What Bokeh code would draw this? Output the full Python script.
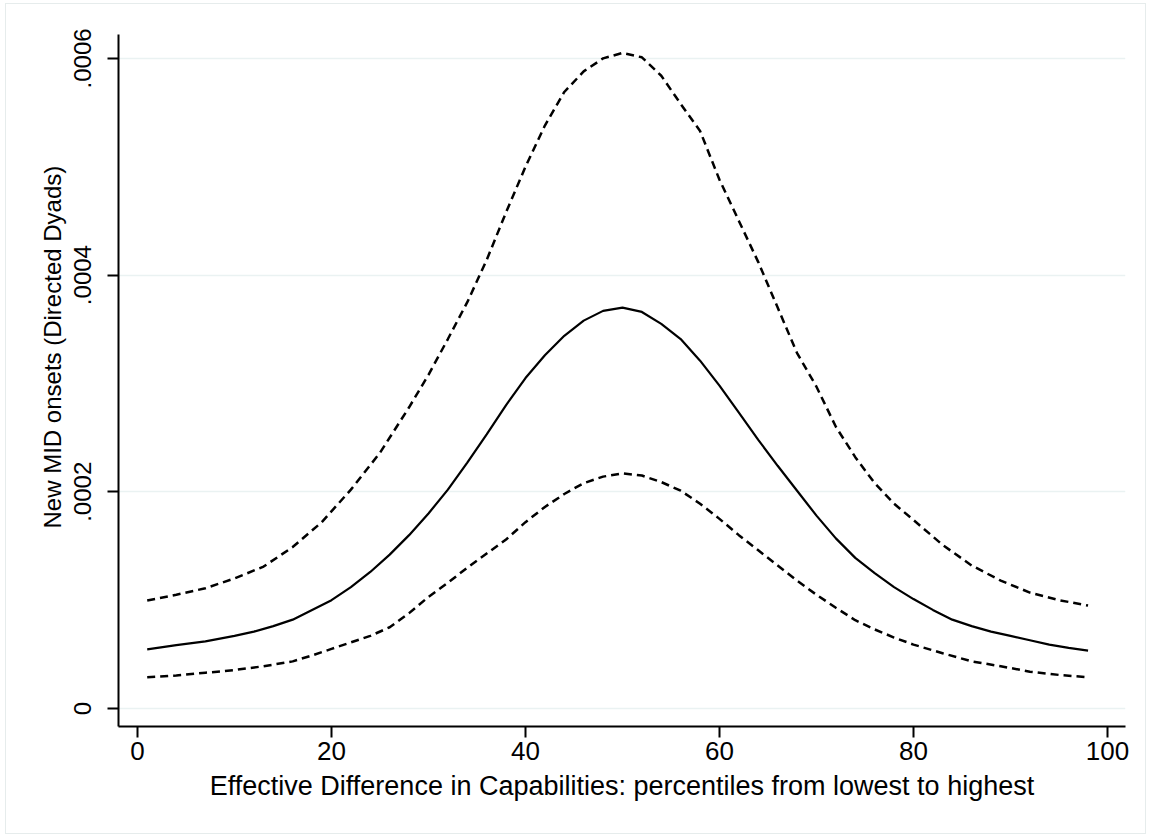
from bokeh.plotting import figure
from bokeh.models import Range1d, FixedTicker, CustomJSTickFormatter, Title
from bokeh.embed import file_html
from bokeh.resources import INLINE

# Percentile of effective capability difference
x_mean = [1, 4, 7, 10, 12, 14, 16, 18, 20, 22, 24, 26, 28, 30, 32, 34, 36, 38,
          40, 42, 44, 46, 48, 50, 52, 54, 56, 58, 60, 62, 64, 66, 68, 70, 72,
          74, 76, 78, 80, 82, 84, 86, 88, 90, 92, 94, 96, 98]
y_mean = [5.45e-5, 5.85e-5, 6.2e-5, 6.7e-5, 7.1e-5, 7.6e-5, 8.2e-5, 9.1e-5,
          1.0e-4, 1.12e-4, 1.26e-4, 1.42e-4, 1.60e-4, 1.80e-4, 2.02e-4, 2.27e-4,
          2.53e-4, 2.80e-4, 3.05e-4, 3.26e-4, 3.44e-4, 3.58e-4, 3.67e-4, 3.70e-4,
          3.66e-4, 3.55e-4, 3.41e-4, 3.21e-4, 2.98e-4, 2.73e-4, 2.48e-4, 2.24e-4,
          2.01e-4, 1.78e-4, 1.57e-4, 1.39e-4, 1.25e-4, 1.12e-4, 1.01e-4, 9.1e-5,
          8.2e-5, 7.6e-5, 7.1e-5, 6.7e-5, 6.3e-5, 5.9e-5, 5.6e-5, 5.35e-5]

x_upper = [1, 4, 7, 10, 13, 16, 19, 22, 25, 28, 30, 32, 34, 36, 38, 40, 42, 44,
           46, 48, 50, 52, 54, 56, 58, 60, 62, 64, 66, 68, 70, 72, 74, 76, 78,
           80, 83, 86, 89, 92, 95, 98]
y_upper = [9.97e-5, 1.05e-4, 1.11e-4, 1.20e-4, 1.31e-4, 1.49e-4, 1.72e-4, 2.02e-4,
           2.36e-4, 2.78e-4, 3.08e-4, 3.41e-4, 3.75e-4, 4.14e-4, 4.58e-4, 5.0e-4,
           5.38e-4, 5.69e-4, 5.88e-4, 6.0e-4, 6.05e-4, 6.01e-4, 5.84e-4, 5.58e-4,
           5.33e-4, 4.88e-4, 4.50e-4, 4.12e-4, 3.70e-4, 3.28e-4, 2.97e-4, 2.60e-4,
           2.32e-4, 2.08e-4, 1.89e-4, 1.74e-4, 1.51e-4, 1.32e-4, 1.18e-4, 1.07e-4,
           1.0e-4, 9.5e-5]

x_lower = [1, 4, 7, 10, 13, 16, 18, 20, 22, 24, 26, 28, 30, 32, 34, 36, 38, 40,
           42, 44, 46, 48, 50, 52, 54, 56, 58, 60, 62, 64, 66, 68, 70, 72, 74,
           76, 78, 80, 83, 86, 89, 92, 95, 98]
y_lower = [2.89e-5, 3.05e-5, 3.3e-5, 3.55e-5, 3.9e-5, 4.35e-5, 4.9e-5, 5.5e-5,
           6.1e-5, 6.7e-5, 7.5e-5, 8.8e-5, 1.03e-4, 1.16e-4, 1.30e-4, 1.43e-4,
           1.56e-4, 1.72e-4, 1.86e-4, 1.98e-4, 2.08e-4, 2.14e-4, 2.17e-4, 2.15e-4,
           2.09e-4, 2.01e-4, 1.89e-4, 1.75e-4, 1.60e-4, 1.46e-4, 1.32e-4, 1.18e-4,
           1.05e-4, 9.3e-5, 8.15e-5, 7.3e-5, 6.55e-5, 5.9e-5, 5.1e-5, 4.35e-5,
           3.9e-5, 3.4e-5, 3.1e-5, 2.89e-5]

x_ticks = [0, 20, 40, 60, 80, 100]
y_ticks = [0, 0.0002, 0.0004, 0.0006]

FONT = "Liberation Sans"

p = figure(width=1141, height=831, output_backend="svg", toolbar_location=None,
           x_range=Range1d(-1.959, 101.86), y_range=Range1d(-1.661e-5, 6.2206e-4),
           min_border_left=112, min_border_right=22, min_border_top=30,
           min_border_bottom=109,
           styles={"margin": "3px 0 0 5px", "border": "1px solid #e6ecec"})
p.outline_line_color = None
p.background_fill_color = "white"
p.border_fill_color = "white"

p.line(x_upper, y_upper, line_color="black", line_width=2.5, line_dash="8 5")
p.line(x_lower, y_lower, line_color="black", line_width=2.5, line_dash="8 5")
p.line(x_mean, y_mean, line_color="black", line_width=2.2)

p.xgrid.grid_line_color = None
p.ygrid.grid_line_color = "#eaf2f2"
p.ygrid.grid_line_width = 1.5

p.xaxis.ticker = FixedTicker(ticks=x_ticks)
p.yaxis.ticker = FixedTicker(ticks=y_ticks)
p.yaxis.formatter = CustomJSTickFormatter(
    code="return tick == 0 ? '0' : tick.toFixed(4).replace(/^0/, '');")

for ax in (p.xaxis[0], p.yaxis[0]):
    ax.axis_line_color = "black"
    ax.axis_line_width = 2
    ax.major_tick_line_color = "black"
    ax.major_tick_line_width = 2
    ax.major_tick_out = 11
    ax.major_tick_in = 0
    ax.minor_tick_line_color = None
    ax.major_label_text_font = FONT
    ax.major_label_text_color = "black"
    ax.axis_label_text_font = FONT
    ax.axis_label_text_font_style = "normal"
    ax.axis_label_text_color = "black"

p.xaxis.major_label_text_font_size = "26px"
p.yaxis.major_label_text_font_size = "24px"
p.xaxis.axis_label = "Effective Difference in Capabilities: percentiles from lowest to highest"
p.xaxis.axis_label_text_font_size = "27px"
p.yaxis.major_label_orientation = "vertical"
p.xaxis.major_label_standoff = 4
p.yaxis.major_label_standoff = 16
p.xaxis.axis_label_standoff = 8

ytitle = Title(text="New MID onsets (Directed Dyads)", align="left", offset=198,
               text_font=FONT, text_font_size="24px", text_font_style="normal",
               text_color="black", standoff=12)
p.add_layout(ytitle, "left")

open("out.html", "w").write(file_html(p, INLINE))
